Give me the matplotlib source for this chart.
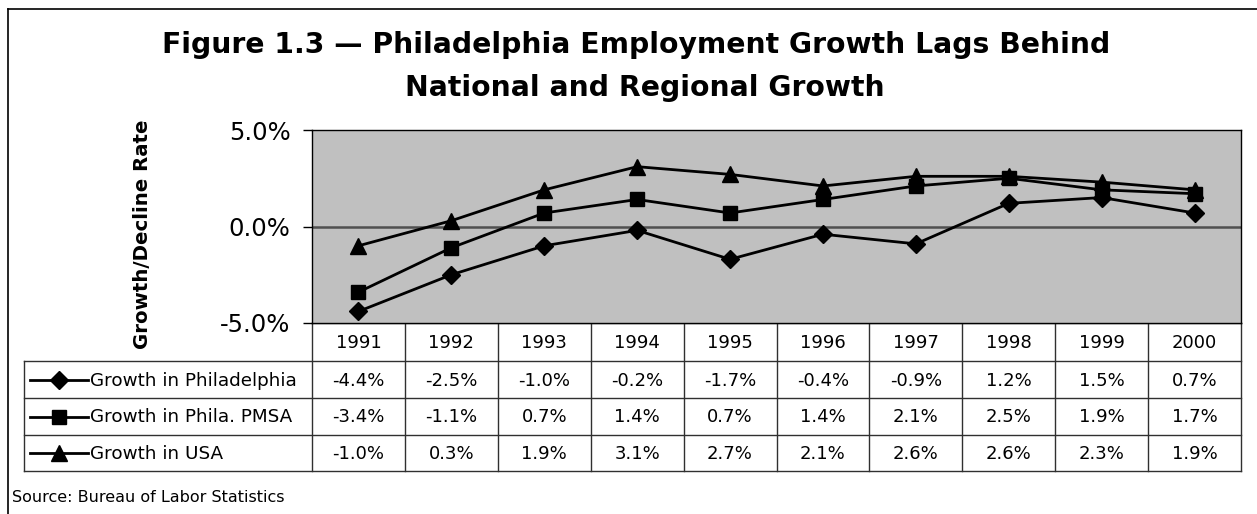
import numpy as np
import matplotlib.pyplot as plt

plt.rcParams['font.family'] = ['DejaVu Sans']

# Data
years = ['1991', '1992', '1993', '1994', '1995', '1996', '1997', '1998', '1999', '2000']
phila = [-4.4, -2.5, -1.0, -0.2, -1.7, -0.4, -0.9, 1.2, 1.5, 0.7]
pmsa = [-3.4, -1.1, 0.7, 1.4, 0.7, 1.4, 2.1, 2.5, 1.9, 1.7]
usa = [-1.0, 0.3, 1.9, 3.1, 2.7, 2.1, 2.6, 2.6, 2.3, 1.9]
series_names = ['Growth in Philadelphia', 'Growth in Phila. PMSA', 'Growth in USA']
series_vals = [phila, pmsa, usa]
series_markers = ['D', 's', '^']
marker_sizes = [9.5, 10.5, 11]

W, H = 1257, 514
fig = plt.figure(figsize=(W / 100, H / 100), dpi=100)

# layout in pixels
px_left, px_right = 312, 1241
px_top, px_bot = 130, 323
row_edges = [323, 361, 398, 435, 471]
tbl_left = 24


def fx(x):
    return x / W


def fy(y):
    return 1 - y / H


# full-figure overlay in pixel coordinates for frame and table
ov = fig.add_axes([0, 0, 1, 1])
ov.set_xlim(0, W)
ov.set_ylim(H, 0)
ov.axis('off')

# outer chart frame
ov.plot([8, W], [9, 9], color='black', lw=1.2)
ov.plot([8, 8], [9, H], color='black', lw=1.2)

ax = fig.add_axes([fx(px_left), fy(px_bot), fx(px_right - px_left), (px_bot - px_top) / H])
ax.set_facecolor('#C0C0C0')
x = np.arange(len(years))
ax.set_xlim(-0.5, len(years) - 0.5)
ax.set_ylim(-5, 5)
ax.axhline(0, color='#505050', lw=1.8, zorder=1)
for vals, m, ms in zip(series_vals, series_markers, marker_sizes):
    ax.plot(x, vals, color='black', lw=2, marker=m, markersize=ms,
            markerfacecolor='black', markeredgecolor='black', zorder=3)
ax.set_xticks([])
ax.set_yticks([-5, 0, 5])
ax.set_yticklabels(['-5.0%', '0.0%', '5.0%'], fontsize=17.5)
ax.tick_params(axis='y', length=6.5, width=1, pad=9)
for s in ax.spines.values():
    s.set_linewidth(1)
    s.set_color('black')

fig.text(fx(142), fy(234), 'Growth/Decline Rate', rotation=90,
         ha='center', va='center', fontsize=14.2, fontweight='bold')

fig.text(fx(636), fy(45), 'Figure 1.3 \u2014 Philadelphia Employment Growth Lags Behind',
         ha='center', va='center', fontsize=20.3, fontweight='bold')
fig.text(fx(645), fy(88), 'National and Regional Growth',
         ha='center', va='center', fontsize=20.3, fontweight='bold')

# data table
col_w = (px_right - px_left) / len(years)
lc = '#303030'
for i, y in enumerate(row_edges):
    x0 = px_left if i == 0 else tbl_left
    ov.plot([x0, px_right], [y, y], color=lc, lw=1)
for j in range(len(years) + 1):
    xv = px_left + j * col_w
    ov.plot([xv, xv], [row_edges[0], row_edges[-1]], color=lc, lw=1)
ov.plot([tbl_left, tbl_left], [row_edges[1], row_edges[-1]], color=lc, lw=1)

for j, yr in enumerate(years):
    ov.text(px_left + (j + 0.5) * col_w, (row_edges[0] + row_edges[1]) / 2 + 1, yr,
            ha='center', va='center', fontsize=13)

for r, (name, vals, m, ms) in enumerate(zip(series_names, series_vals, series_markers, marker_sizes)):
    yc = (row_edges[r + 1] + row_edges[r + 2]) / 2
    ov.plot([30, 88], [yc, yc], color='black', lw=2)
    ov.plot([59], [yc], marker=m, color='black', markersize=ms)
    ov.text(90, yc + 1, name, ha='left', va='center', fontsize=13.2)
    for j, v in enumerate(vals):
        ov.text(px_left + (j + 0.5) * col_w, yc + 1, f'{v:.1f}%',
                ha='center', va='center', fontsize=13)

fig.text(fx(12), fy(497), 'Source: Bureau of Labor Statistics',
         ha='left', va='center', fontsize=11.5)

fig.savefig('out.png', dpi=100)
